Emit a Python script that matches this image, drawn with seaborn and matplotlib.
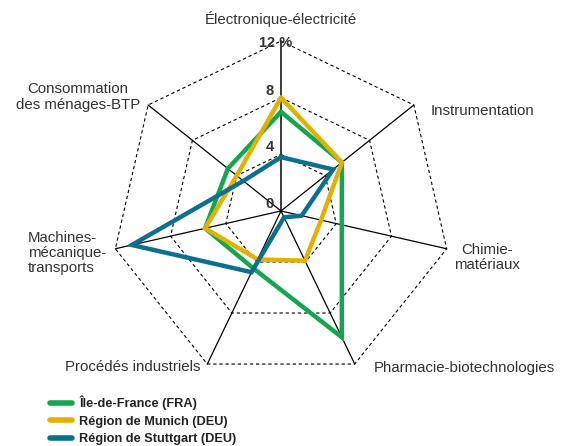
import numpy as np
import pandas as pd
import matplotlib
matplotlib.use("Agg")
import matplotlib.pyplot as plt
import seaborn as sns

# axes, clockwise from the top
categories = [
    "Électronique-électricité",
    "Instrumentation",
    "Chimie-\nmatériaux",
    "Pharmacie-biotechnologies",
    "Procédés industriels",
    "Machines-\nmécanique-\ntransports",
    "Consommation\ndes ménages-BTP",
]
regions = ["Île-de-France (FRA)", "Région de Munich (DEU)", "Région de Stuttgart (DEU)"]
ile_de_france = [7.0, 5.5, 4.4, 9.9, 4.5, 5.5, 4.8]
munich = [8.0, 5.5, 2.9, 3.9, 3.8, 5.5, 4.0]
stuttgart = [3.8, 4.7, 1.5, 0.5, 4.8, 10.8, 3.4]
rings = [0, 4, 8, 12]
ring_labels = ["0", "4", "8", "12 %"]

colors = ["#12a64f", "#e2b100", "#0c6f8e"]
text_color = "#333333"

sns.set_theme(style="white")
plt.rcParams["font.family"] = ["Liberation Sans", "DejaVu Sans"]

n = len(categories)
angles = np.linspace(0, 2 * np.pi, n, endpoint=False)
closed = np.append(angles, 2 * np.pi)

rows = []
for name, vals in zip(regions, [ile_de_france, munich, stuttgart]):
    for a, v in zip(closed, vals + vals[:1]):
        rows.append({"angle": a, "value": v, "region": name})
df = pd.DataFrame(rows)

fig = plt.figure(figsize=(5.62, 4.46), dpi=100)
ax = fig.add_axes([0.1975, 0.146, 0.605, 0.762], projection="polar")
ax.set_theta_zero_location("N")
ax.set_theta_direction(-1)
ax.set_ylim(0, 12)
ax.axis("off")

# dashed heptagon grid
for r in rings[1:]:
    ax.plot(closed, [r] * (n + 1), color="black", lw=0.8, ls=(0, (3, 2.5)),
            clip_on=False, zorder=1)

# spokes
for i, a in enumerate(angles):
    ax.plot([a, a], [0, rings[-1]], color="#3a3a3a" if i == 0 else "black",
            lw=1.4 if i == 0 else 0.9, clip_on=False, zorder=2)

sns.lineplot(data=df, x="angle", y="value", hue="region", palette=colors,
             sort=False, estimator=None, linewidth=3.2, ax=ax, clip_on=False,
             zorder=3, solid_joinstyle="miter")

# category labels (offsets in pixels from the outer vertex)
offsets = [
    (0, 22, "center", "center"),
    (17, -6, "left", "left"),
    (40, -9, "center", "center"),
    (19, -4, "left", "left"),
    (-7, -3, "right", "right"),
    (-9, -4, "right", "left"),
    (-8, 8, "right", "center"),
]
for a, lab, (dx, dy, ha, ma) in zip(angles, categories, offsets):
    ax.annotate(lab, xy=(a, rings[-1]), xytext=(dx, dy), textcoords="offset pixels",
                ha=ha, va="center", multialignment=ma, fontsize=10.8,
                color=text_color, linespacing=1.1, annotation_clip=False)

# radial scale labels along the top axis
for r, lab in zip(rings, ring_labels):
    if lab == "12 %":
        ax.annotate(lab, xy=(0, r), xytext=(-5, -2), textcoords="offset pixels",
                    ha="center", va="center", fontsize=10.5, fontweight="bold",
                    color=text_color, annotation_clip=False, zorder=5)
    else:
        ax.annotate(lab, xy=(0, r), xytext=(-11, 7), textcoords="offset pixels",
                    ha="center", va="center", fontsize=10.5, fontweight="bold",
                    color=text_color, annotation_clip=False, zorder=5)

sns.move_legend(ax, "upper left", bbox_to_anchor=(50 / 562, 1 - 396 / 446),
                bbox_transform=fig.transFigure, title=None, frameon=False,
                prop={"weight": "bold", "size": 9.2}, handlelength=1.7,
                handletextpad=0.6, labelspacing=0.42, borderpad=0,
                borderaxespad=0)
leg = ax.get_legend()
for h in leg.get_lines():
    h.set_linewidth(4)
    h.set_solid_capstyle("round")
for t in leg.get_texts():
    t.set_color("#222222")

fig.savefig("out.png", dpi=100)
